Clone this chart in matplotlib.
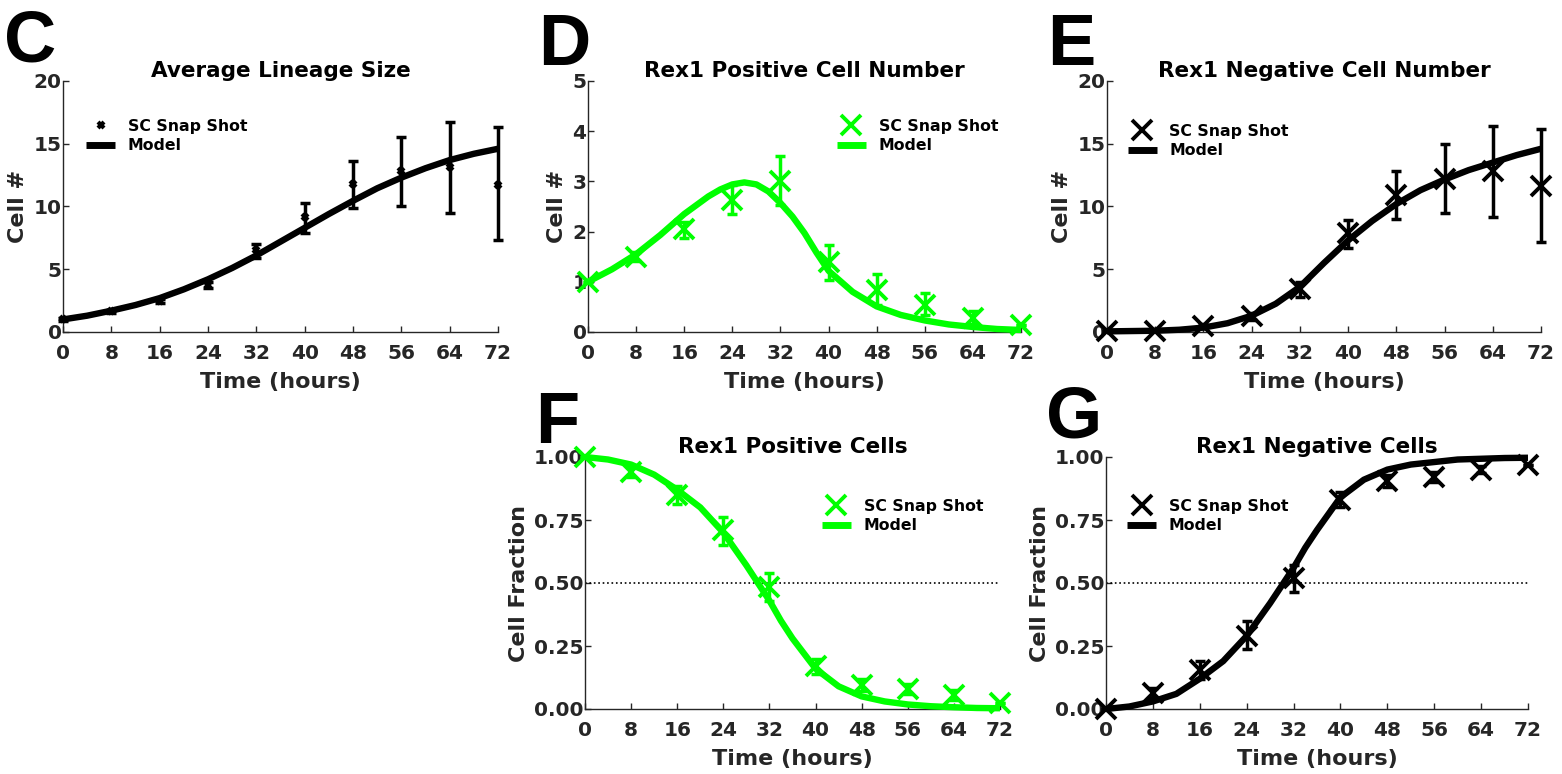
import matplotlib
matplotlib.use('Agg')
import matplotlib.pyplot as plt
from matplotlib.lines import Line2D

# --- values ---
time_pts = [0, 8, 16, 24, 32, 40, 48, 56, 64, 72]
x_ticks = [0, 8, 16, 24, 32, 40, 48, 56, 64, 72]

# C: average lineage size
lineage_mean = [1.0, 1.65, 2.45, 3.75, 6.5, 9.15, 11.8, 12.8, 13.15, 11.75]
lineage_lo = [0.9, 1.55, 2.3, 3.5, 5.9, 7.9, 9.85, 10.0, 9.5, 7.3]
lineage_hi = [1.1, 1.75, 2.6, 4.0, 7.05, 10.3, 13.65, 15.55, 16.7, 16.3]
lineage_model_t = [0, 4, 8, 12, 16, 20, 24, 28, 32, 36, 40, 44, 48, 52, 56, 60, 64, 68, 72]
lineage_model = [1.0, 1.3, 1.7, 2.15, 2.7, 3.4, 4.2, 5.1, 6.1, 7.2, 8.3, 9.4, 10.45,
                 11.45, 12.3, 13.05, 13.7, 14.2, 14.6]

# D: Rex1 positive cell number
pos_num_mean = [1.0, 1.5, 2.05, 2.63, 3.0, 1.4, 0.84, 0.54, 0.28, 0.13]
pos_num_lo = [1.0, 1.42, 1.88, 2.36, 2.53, 1.04, 0.54, 0.34, 0.15, 0.13]
pos_num_hi = [1.0, 1.6, 2.2, 2.93, 3.5, 1.74, 1.16, 0.77, 0.41, 0.13]
pos_num_model_t = [0, 4, 8, 12, 16, 20, 22, 24, 26, 28, 30, 32, 34, 36, 38, 40, 44, 48,
                   52, 56, 60, 64, 68, 72]
pos_num_model = [1.0, 1.25, 1.55, 1.93, 2.35, 2.7, 2.84, 2.94, 2.98, 2.94, 2.8, 2.57,
                 2.3, 1.97, 1.58, 1.22, 0.8, 0.51, 0.34, 0.23, 0.15, 0.1, 0.06, 0.04]

# E: Rex1 negative cell number
neg_num_mean = [0.05, 0.05, 0.45, 1.25, 3.4, 7.9, 10.9, 12.2, 12.8, 11.65]
neg_num_lo = [0.05, 0.05, 0.3, 0.95, 2.8, 6.7, 9.0, 9.45, 9.2, 7.2]
neg_num_hi = [0.05, 0.05, 0.6, 1.55, 4.0, 8.9, 12.8, 15.0, 16.4, 16.2]
neg_num_model_t = [0, 8, 12, 16, 20, 24, 28, 32, 36, 40, 44, 48, 52, 56, 60, 64, 68, 72]
neg_num_model = [0.05, 0.1, 0.18, 0.35, 0.7, 1.3, 2.25, 3.6, 5.5, 7.3, 8.85, 10.2,
                 11.3, 12.15, 12.9, 13.5, 14.1, 14.6]

# F: Rex1 positive fraction
pos_frac_mean = [1.0, 0.94, 0.85, 0.71, 0.485, 0.17, 0.095, 0.08, 0.055, 0.025]
pos_frac_lo = [1.0, 0.92, 0.815, 0.65, 0.43, 0.14, 0.07, 0.06, 0.035, 0.025]
pos_frac_hi = [1.0, 0.96, 0.885, 0.76, 0.54, 0.20, 0.12, 0.10, 0.075, 0.025]
frac_model_t = [0, 4, 8, 12, 16, 20, 24, 28, 30, 32, 34, 36, 40, 44, 48, 52, 56, 60,
                64, 68, 72]
pos_frac_model = [1.0, 0.99, 0.97, 0.93, 0.87, 0.8, 0.7, 0.57, 0.5, 0.43, 0.35, 0.28,
                  0.16, 0.09, 0.05, 0.03, 0.018, 0.011, 0.007, 0.004, 0.003]

# G: Rex1 negative fraction
neg_frac_mean = [0.0, 0.065, 0.155, 0.29, 0.52, 0.83, 0.905, 0.92, 0.95, 0.97]
neg_frac_lo = [0.0, 0.045, 0.12, 0.24, 0.465, 0.8, 0.88, 0.9, 0.935, 0.97]
neg_frac_hi = [0.0, 0.085, 0.19, 0.35, 0.57, 0.86, 0.93, 0.94, 0.965, 0.97]
neg_frac_model = [0.0, 0.01, 0.03, 0.06, 0.12, 0.19, 0.29, 0.42, 0.49, 0.56, 0.64,
                  0.71, 0.84, 0.91, 0.95, 0.97, 0.98, 0.99, 0.993, 0.996, 0.997]

GREEN = '#00ff00'
DARK = '#262626'
W, H = 1562, 774

plt.rcParams['font.family'] = 'DejaVu Sans'
plt.rcParams['font.weight'] = 'bold'

fig = plt.figure(figsize=(W / 100, H / 100), dpi=100)


def px_axes(left, right, top, bottom):
    return fig.add_axes([left / W, 1 - bottom / H, (right - left) / W, (bottom - top) / H])


def draw_panel(ax, mean, lo, hi, model_t, model_y, color, title, ylabel,
               ylim, yticks, ylabels, leg_xy, small_marker=False, half_line=False):
    yerr = [[m - l for m, l in zip(mean, lo)], [h - m for m, h in zip(mean, hi)]]
    ax.errorbar(time_pts, mean, yerr=yerr, fmt='none', ecolor=color, elinewidth=2.5,
                capsize=3.5, capthick=2.5, clip_on=False, zorder=3)
    ax.plot(model_t, model_y, color=color, lw=4.6, solid_capstyle='butt',
            solid_joinstyle='round', clip_on=False, zorder=4)
    if small_marker:
        ms, mew = 5, 3
    else:
        ms, mew = 15, 2.8
    ax.plot(time_pts, mean, ls='none', marker='x', ms=ms, mew=mew, color=color,
            clip_on=False, zorder=5)
    if half_line:
        ax.axhline(0.5, ls=':', color='black', lw=1.2, zorder=2)

    ax.set_xlim(0, 72)
    ax.set_ylim(*ylim)
    ax.set_xticks(x_ticks)
    ax.set_yticks(yticks)
    ax.set_yticklabels(ylabels)
    for s in ['top', 'right']:
        ax.spines[s].set_visible(False)
    for s in ['left', 'bottom']:
        ax.spines[s].set_color(DARK)
        ax.spines[s].set_linewidth(1.0)
    ax.tick_params(axis='both', direction='in', length=4, width=1, colors=DARK,
                   labelsize=14.5)
    ax.tick_params(axis='x', pad=9)
    ax.tick_params(axis='y', pad=1)
    for lbl in ax.get_xticklabels() + ax.get_yticklabels():
        lbl.set_fontweight('bold')
    ax.set_title(title, fontsize=15.5, fontweight='bold', color='black', pad=3)
    ax.set_xlabel('Time (hours)', fontsize=16, fontweight='bold', color=DARK, labelpad=6)
    ax.set_ylabel(ylabel, fontsize=16, fontweight='bold', color=DARK, labelpad=4)

    handles = [
        Line2D([], [], ls='none', marker='x', ms=ms, mew=mew, color=color),
        Line2D([], [], lw=5, color=color, solid_capstyle='butt'),
    ]
    ax.legend(handles, ['SC Snap Shot', 'Model'], loc='upper left',
              bbox_to_anchor=leg_xy, frameon=False, borderpad=0, borderaxespad=0,
              handlelength=1.85, handletextpad=0.8, labelspacing=0.3,
              prop={'size': 11.3, 'weight': 'bold'})


ax_c = px_axes(63, 498, 81, 332)
ax_d = px_axes(588, 1021, 81, 332)
ax_e = px_axes(1107, 1541, 81, 332)
ax_f = px_axes(585, 1000, 457, 709)
ax_g = px_axes(1106, 1528, 457, 709)

num20 = [0, 5, 10, 15, 20]
num5 = [0, 1, 2, 3, 4, 5]
frac = [0, 0.25, 0.5, 0.75, 1.0]
frac_lbl = ['0.00', '0.25', '0.50', '0.75', '1.00']

draw_panel(ax_c, lineage_mean, lineage_lo, lineage_hi, lineage_model_t, lineage_model,
           'black', 'Average Lineage Size', 'Cell #', (0, 20), num20,
           [str(v) for v in num20], (0.053, 0.85), small_marker=True)
draw_panel(ax_d, pos_num_mean, pos_num_lo, pos_num_hi, pos_num_model_t, pos_num_model,
           GREEN, 'Rex1 Positive Cell Number', 'Cell #', (0, 5), num5,
           [str(v) for v in num5], (0.575, 0.85))
draw_panel(ax_e, neg_num_mean, neg_num_lo, neg_num_hi, neg_num_model_t, neg_num_model,
           'black', 'Rex1 Negative Cell Number', 'Cell #', (0, 20), num20,
           [str(v) for v in num20], (0.048, 0.83))
draw_panel(ax_f, pos_frac_mean, pos_frac_lo, pos_frac_hi, frac_model_t, pos_frac_model,
           GREEN, 'Rex1 Positive Cells', 'Cell Fraction', (0, 1), frac, frac_lbl,
           (0.571, 0.835), half_line=True)
draw_panel(ax_g, neg_frac_mean, neg_frac_lo, neg_frac_hi, frac_model_t, neg_frac_model,
           'black', 'Rex1 Negative Cells', 'Cell Fraction', (0, 1), frac, frac_lbl,
           (0.05, 0.835), half_line=True)

# panel letters
letters = [('C', 4, 62), ('D', 538, 65), ('E', 1047, 65), ('F', 535, 443), ('G', 1046, 437)]
for letter, lx, ly in letters:
    fig.text(lx / W, 1 - ly / H, letter, fontsize=52, fontweight='bold',
             family='Liberation Sans', ha='left', va='baseline', color='black')

fig.savefig('out.png', dpi=100)
